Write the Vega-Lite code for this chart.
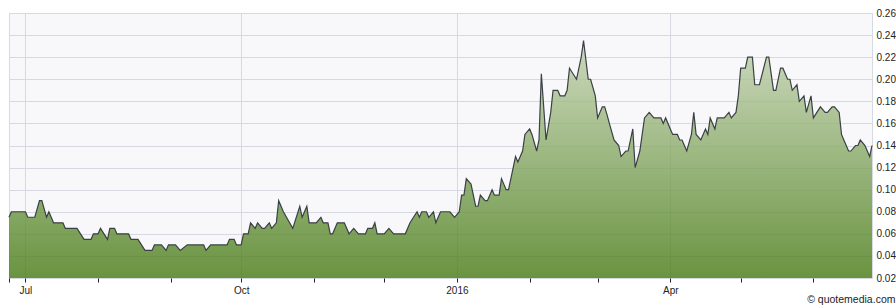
{
  "$schema": "https://vega.github.io/schema/vega-lite/v6.json",
  "width": 863,
  "height": 265,
  "padding": {"left": 6, "top": 8, "right": 0, "bottom": 0},
  "autosize": {"type": "pad"},
  "background": "#ffffff",
  "config": {
    "font": "Liberation Sans",
    "view": {"fill": "#f8f8fa", "stroke": "#d6d9e2", "strokeWidth": 1}
  },
  "title": {
    "text": "© quotemedia.com",
    "orient": "bottom",
    "anchor": "end",
    "frame": "bounds",
    "fontSize": 10.5,
    "fontWeight": "normal",
    "color": "#222222",
    "offset": 0
  },
  "data": {
    "values": [
      {"d": "2015-06-24", "v": 0.075}, {"d": "2015-06-25", "v": 0.08}, {"d": "2015-07-01", "v": 0.08},
      {"d": "2015-07-02", "v": 0.075}, {"d": "2015-07-05", "v": 0.075}, {"d": "2015-07-07", "v": 0.09},
      {"d": "2015-07-08", "v": 0.09}, {"d": "2015-07-10", "v": 0.075}, {"d": "2015-07-11", "v": 0.08},
      {"d": "2015-07-13", "v": 0.07}, {"d": "2015-07-17", "v": 0.07}, {"d": "2015-07-18", "v": 0.065},
      {"d": "2015-07-23", "v": 0.065}, {"d": "2015-07-26", "v": 0.055}, {"d": "2015-07-29", "v": 0.055},
      {"d": "2015-07-30", "v": 0.06}, {"d": "2015-08-01", "v": 0.06}, {"d": "2015-08-02", "v": 0.065},
      {"d": "2015-08-05", "v": 0.055}, {"d": "2015-08-06", "v": 0.065}, {"d": "2015-08-08", "v": 0.065},
      {"d": "2015-08-09", "v": 0.06}, {"d": "2015-08-14", "v": 0.06}, {"d": "2015-08-15", "v": 0.055},
      {"d": "2015-08-18", "v": 0.055}, {"d": "2015-08-21", "v": 0.045}, {"d": "2015-08-24", "v": 0.045},
      {"d": "2015-08-25", "v": 0.05}, {"d": "2015-08-28", "v": 0.05}, {"d": "2015-08-30", "v": 0.045},
      {"d": "2015-08-31", "v": 0.05}, {"d": "2015-09-03", "v": 0.05}, {"d": "2015-09-05", "v": 0.045},
      {"d": "2015-09-08", "v": 0.05}, {"d": "2015-09-15", "v": 0.05}, {"d": "2015-09-16", "v": 0.045},
      {"d": "2015-09-18", "v": 0.05}, {"d": "2015-09-25", "v": 0.05}, {"d": "2015-09-26", "v": 0.055},
      {"d": "2015-09-28", "v": 0.055}, {"d": "2015-09-29", "v": 0.05}, {"d": "2015-10-01", "v": 0.05},
      {"d": "2015-10-02", "v": 0.06}, {"d": "2015-10-04", "v": 0.06}, {"d": "2015-10-05", "v": 0.07},
      {"d": "2015-10-07", "v": 0.065}, {"d": "2015-10-08", "v": 0.07}, {"d": "2015-10-10", "v": 0.065},
      {"d": "2015-10-11", "v": 0.065}, {"d": "2015-10-13", "v": 0.07}, {"d": "2015-10-14", "v": 0.065},
      {"d": "2015-10-16", "v": 0.07}, {"d": "2015-10-17", "v": 0.09}, {"d": "2015-10-19", "v": 0.08},
      {"d": "2015-10-23", "v": 0.065}, {"d": "2015-10-26", "v": 0.085}, {"d": "2015-10-27", "v": 0.075},
      {"d": "2015-10-29", "v": 0.085}, {"d": "2015-10-30", "v": 0.07}, {"d": "2015-11-02", "v": 0.07},
      {"d": "2015-11-04", "v": 0.075}, {"d": "2015-11-05", "v": 0.07}, {"d": "2015-11-07", "v": 0.07},
      {"d": "2015-11-08", "v": 0.06}, {"d": "2015-11-09", "v": 0.06}, {"d": "2015-11-11", "v": 0.07},
      {"d": "2015-11-14", "v": 0.07}, {"d": "2015-11-16", "v": 0.06}, {"d": "2015-11-18", "v": 0.065},
      {"d": "2015-11-20", "v": 0.06}, {"d": "2015-11-23", "v": 0.06}, {"d": "2015-11-24", "v": 0.065},
      {"d": "2015-11-26", "v": 0.065}, {"d": "2015-11-27", "v": 0.07}, {"d": "2015-11-28", "v": 0.06},
      {"d": "2015-12-01", "v": 0.06}, {"d": "2015-12-03", "v": 0.065}, {"d": "2015-12-05", "v": 0.06},
      {"d": "2015-12-10", "v": 0.06}, {"d": "2015-12-12", "v": 0.07}, {"d": "2015-12-15", "v": 0.08},
      {"d": "2015-12-16", "v": 0.075}, {"d": "2015-12-17", "v": 0.08}, {"d": "2015-12-19", "v": 0.08},
      {"d": "2015-12-20", "v": 0.075}, {"d": "2015-12-22", "v": 0.08}, {"d": "2015-12-23", "v": 0.07},
      {"d": "2015-12-25", "v": 0.08}, {"d": "2015-12-29", "v": 0.08}, {"d": "2015-12-31", "v": 0.075},
      {"d": "2016-01-02", "v": 0.08}, {"d": "2016-01-03", "v": 0.095}, {"d": "2016-01-04", "v": 0.095},
      {"d": "2016-01-05", "v": 0.11}, {"d": "2016-01-07", "v": 0.105}, {"d": "2016-01-09", "v": 0.085},
      {"d": "2016-01-10", "v": 0.085}, {"d": "2016-01-11", "v": 0.095}, {"d": "2016-01-13", "v": 0.09},
      {"d": "2016-01-14", "v": 0.09}, {"d": "2016-01-16", "v": 0.1}, {"d": "2016-01-17", "v": 0.095},
      {"d": "2016-01-19", "v": 0.095}, {"d": "2016-01-20", "v": 0.11}, {"d": "2016-01-22", "v": 0.1},
      {"d": "2016-01-23", "v": 0.1}, {"d": "2016-01-25", "v": 0.12}, {"d": "2016-01-26", "v": 0.13},
      {"d": "2016-01-27", "v": 0.125}, {"d": "2016-01-29", "v": 0.135}, {"d": "2016-01-30", "v": 0.15},
      {"d": "2016-02-01", "v": 0.155}, {"d": "2016-02-02", "v": 0.15}, {"d": "2016-02-04", "v": 0.135},
      {"d": "2016-02-05", "v": 0.145}, {"d": "2016-02-06", "v": 0.205}, {"d": "2016-02-08", "v": 0.145},
      {"d": "2016-02-10", "v": 0.17}, {"d": "2016-02-11", "v": 0.19}, {"d": "2016-02-13", "v": 0.19},
      {"d": "2016-02-14", "v": 0.185}, {"d": "2016-02-16", "v": 0.185}, {"d": "2016-02-17", "v": 0.19},
      {"d": "2016-02-18", "v": 0.21}, {"d": "2016-02-21", "v": 0.2}, {"d": "2016-02-23", "v": 0.22},
      {"d": "2016-02-24", "v": 0.235}, {"d": "2016-02-26", "v": 0.2}, {"d": "2016-02-27", "v": 0.2},
      {"d": "2016-02-29", "v": 0.185}, {"d": "2016-03-01", "v": 0.165}, {"d": "2016-03-03", "v": 0.175},
      {"d": "2016-03-04", "v": 0.175}, {"d": "2016-03-05", "v": 0.168}, {"d": "2016-03-06", "v": 0.16},
      {"d": "2016-03-08", "v": 0.145}, {"d": "2016-03-10", "v": 0.14}, {"d": "2016-03-11", "v": 0.13},
      {"d": "2016-03-13", "v": 0.135}, {"d": "2016-03-14", "v": 0.135}, {"d": "2016-03-16", "v": 0.155},
      {"d": "2016-03-17", "v": 0.12}, {"d": "2016-03-19", "v": 0.135}, {"d": "2016-03-20", "v": 0.15},
      {"d": "2016-03-21", "v": 0.165}, {"d": "2016-03-23", "v": 0.17}, {"d": "2016-03-25", "v": 0.165},
      {"d": "2016-03-28", "v": 0.165}, {"d": "2016-03-29", "v": 0.16}, {"d": "2016-03-30", "v": 0.165},
      {"d": "2016-04-01", "v": 0.155}, {"d": "2016-04-02", "v": 0.15}, {"d": "2016-04-04", "v": 0.15},
      {"d": "2016-04-05", "v": 0.145}, {"d": "2016-04-06", "v": 0.145}, {"d": "2016-04-08", "v": 0.135},
      {"d": "2016-04-10", "v": 0.15}, {"d": "2016-04-11", "v": 0.17}, {"d": "2016-04-12", "v": 0.15},
      {"d": "2016-04-14", "v": 0.145}, {"d": "2016-04-16", "v": 0.155}, {"d": "2016-04-17", "v": 0.15},
      {"d": "2016-04-18", "v": 0.165}, {"d": "2016-04-20", "v": 0.155}, {"d": "2016-04-21", "v": 0.165},
      {"d": "2016-04-24", "v": 0.165}, {"d": "2016-04-26", "v": 0.17}, {"d": "2016-04-27", "v": 0.165},
      {"d": "2016-04-29", "v": 0.17}, {"d": "2016-04-30", "v": 0.185}, {"d": "2016-05-01", "v": 0.21},
      {"d": "2016-05-03", "v": 0.21}, {"d": "2016-05-04", "v": 0.22}, {"d": "2016-05-06", "v": 0.22},
      {"d": "2016-05-07", "v": 0.195}, {"d": "2016-05-09", "v": 0.195}, {"d": "2016-05-12", "v": 0.22},
      {"d": "2016-05-13", "v": 0.22}, {"d": "2016-05-15", "v": 0.19}, {"d": "2016-05-16", "v": 0.19},
      {"d": "2016-05-18", "v": 0.21}, {"d": "2016-05-19", "v": 0.21}, {"d": "2016-05-21", "v": 0.2},
      {"d": "2016-05-22", "v": 0.2}, {"d": "2016-05-23", "v": 0.19}, {"d": "2016-05-25", "v": 0.195},
      {"d": "2016-05-26", "v": 0.18}, {"d": "2016-05-28", "v": 0.185}, {"d": "2016-05-29", "v": 0.17},
      {"d": "2016-05-31", "v": 0.185}, {"d": "2016-06-01", "v": 0.165}, {"d": "2016-06-04", "v": 0.175},
      {"d": "2016-06-06", "v": 0.17}, {"d": "2016-06-07", "v": 0.17}, {"d": "2016-06-09", "v": 0.175},
      {"d": "2016-06-10", "v": 0.175}, {"d": "2016-06-12", "v": 0.17}, {"d": "2016-06-13", "v": 0.15},
      {"d": "2016-06-14", "v": 0.145}, {"d": "2016-06-16", "v": 0.135}, {"d": "2016-06-17", "v": 0.135},
      {"d": "2016-06-19", "v": 0.14}, {"d": "2016-06-20", "v": 0.14}, {"d": "2016-06-21", "v": 0.145},
      {"d": "2016-06-23", "v": 0.14}, {"d": "2016-06-25", "v": 0.13}, {"d": "2016-06-26", "v": 0.14}
    ]
  },
  "encoding": {
    "x": {
      "field": "d",
      "type": "temporal",
      "title": null,
      "scale": {
        "type": "utc",
        "nice": false,
        "domain": [
          {"year": 2015, "month": 6, "date": 24, "utc": true},
          {"year": 2016, "month": 6, "date": 26, "utc": true}
        ]
      },
      "axis": {
        "orient": "bottom",
        "domain": false,
        "values": [
          {"year": 2015, "month": 6, "date": 24, "utc": true},
          {"year": 2015, "month": 7, "date": 1, "utc": true},
          {"year": 2015, "month": 8, "date": 1, "utc": true},
          {"year": 2015, "month": 9, "date": 1, "utc": true},
          {"year": 2015, "month": 10, "date": 1, "utc": true},
          {"year": 2015, "month": 11, "date": 1, "utc": true},
          {"year": 2015, "month": 12, "date": 1, "utc": true},
          {"year": 2016, "month": 1, "date": 1, "utc": true},
          {"year": 2016, "month": 2, "date": 1, "utc": true},
          {"year": 2016, "month": 3, "date": 1, "utc": true},
          {"year": 2016, "month": 4, "date": 1, "utc": true},
          {"year": 2016, "month": 5, "date": 1, "utc": true},
          {"year": 2016, "month": 6, "date": 1, "utc": true}
        ],
        "labelExpr": "utcdate(datum.value) != 1 ? '' : (utcmonth(datum.value) == 0 ? utcFormat(datum.value, '%Y') : (utcmonth(datum.value) % 3 == 0 ? utcFormat(datum.value, '%b') : ''))",
        "grid": true,
        "gridColor": "#d6d9e2",
        "gridWidth": 1,
        "gridOpacity": {
          "condition": {"test": "utcdate(datum.value) == 1 && utcmonth(datum.value) % 3 == 0", "value": 1},
          "value": 0
        },
        "ticks": true,
        "tickSize": 4,
        "tickColor": "#222222",
        "tickWidth": 1,
        "labelFontSize": 10,
        "labelColor": "#222222",
        "labelPadding": 3,
        "labelFlush": false,
        "labelOverlap": false
      }
    },
    "y": {
      "field": "v",
      "type": "quantitative",
      "title": null,
      "scale": {"domain": [0.02, 0.26], "nice": false, "zero": false},
      "axis": {
        "orient": "right",
        "domain": false,
        "ticks": false,
        "values": [0.02, 0.04, 0.06, 0.08, 0.1, 0.12, 0.14, 0.16, 0.18, 0.2, 0.22, 0.24, 0.26],
        "format": ".2f",
        "grid": true,
        "gridColor": "#d6d9e2",
        "gridWidth": 1,
        "labelFontSize": 10,
        "labelColor": "#222222",
        "labelPadding": 4,
        "labelOverlap": false
      }
    }
  },
  "layer": [
    {
      "mark": {
        "type": "area",
        "interpolate": "linear",
        "fillOpacity": 0.8,
        "fill": {
          "gradient": "linear",
          "x1": 0, "y1": 0, "x2": 0, "y2": 1,
          "stops": [
            {"offset": 0, "color": "#c2d2af"},
            {"offset": 1, "color": "#467a12"}
          ]
        }
      },
      "encoding": {"y2": {"datum": 0.02}}
    },
    {
      "mark": {"type": "line", "interpolate": "linear", "color": "#3a4046", "strokeWidth": 1.2},
      "encoding": {}
    }
  ]
}
